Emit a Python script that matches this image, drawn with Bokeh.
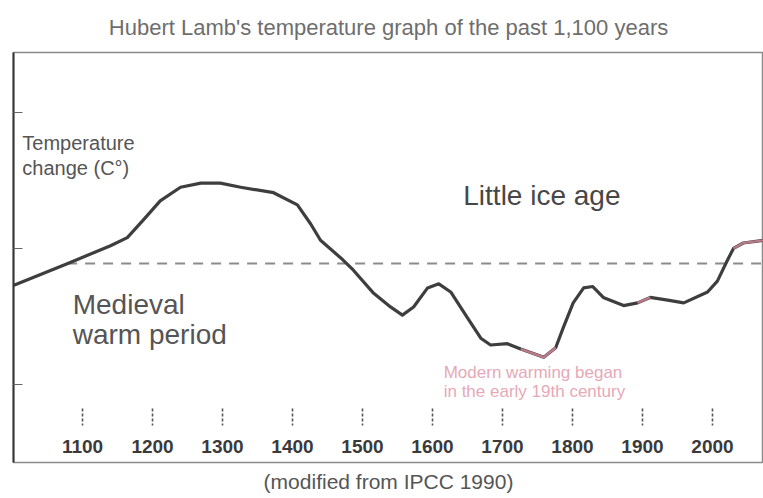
from bokeh.plotting import figure
from bokeh.models import Label, FixedTicker, Title, Range1d, CustomJSTickFormatter
from bokeh.core.properties import value
from bokeh.embed import file_html
from bokeh.resources import INLINE

# ---- data ----
years = [1002, 1079, 1140, 1164, 1187, 1211, 1240, 1269, 1297, 1326,
         1373, 1407, 1426, 1440, 1469, 1487, 1516, 1540, 1557, 1573,
         1593, 1609, 1626, 1650, 1669, 1683, 1707, 1726, 1759, 1776,
         1787, 1801, 1816, 1829, 1844, 1873, 1893, 1911, 1936, 1959,
         1993, 2007, 2021, 2030, 2044, 2073]
temps = [-0.27, -0.11, 0.02, 0.08, 0.21, 0.35, 0.45, 0.48, 0.48, 0.45,
         0.41, 0.32, 0.18, 0.06, -0.07, -0.16, -0.33, -0.43, -0.49, -0.43,
         -0.29, -0.26, -0.32, -0.51, -0.66, -0.71, -0.70, -0.74, -0.80, -0.73,
         -0.58, -0.40, -0.29, -0.28, -0.36, -0.42, -0.40, -0.36, -0.38, -0.40,
         -0.32, -0.24, -0.09, 0.00, 0.04, 0.06]
baseline_value = -0.11
baseline_years = [1078, 2075]
year_ticks = [1100, 1200, 1300, 1400, 1500, 1600, 1700, 1800, 1900, 2000]
year_labels = ["1100", "1200", "1300", "1400", "1500", "1600", "1700", "1800", "1900", "2000"]
y_ticks = [-1, 0, 1]
pink_spans = [(27, 30), (36, 38), (43, 46)]

title_text = "Hubert Lamb's temperature graph of the past 1,100 years"
caption_text = "(modified from IPCC 1990)"
ylabel_lines = ["Temperature", "change (C°)"]
lia_text = "Little ice age"
mwp_lines = ["Medieval", "warm period"]
pink_lines = ["Modern warming began", "in the early 19th century"]

FONT = "Liberation Sans"

p = figure(width=763, height=498, output_backend="svg", toolbar_location=None,
           x_range=Range1d(1001.4, 2072.9), y_range=Range1d(-1.574, 1.441),
           x_axis_location=None, min_border_left=13, min_border_right=0,
           min_border_top=52, min_border_bottom=36)
p.grid.visible = False
p.background_fill_color = "white"
p.border_fill_color = "white"
p.outline_line_color = "#8a8a8a"
p.outline_line_width = 1.5

p.title.text = title_text
p.title.align = "center"
p.title.vertical_align = "top"
p.title.text_font = FONT
p.title.text_font_size = "22px"
p.title.text_font_style = "normal"
p.title.text_color = "#6e6e6e"
p.title.standoff = p.title.standoff + 12

cap = Title(text=caption_text, align="center", text_font=FONT,
            text_font_size="21px", text_font_style="normal", text_color="#555555")
cap.standoff = cap.standoff + 1
p.add_layout(cap, "below")

ax = p.yaxis[0]
ax.ticker = FixedTicker(ticks=y_ticks)
ax.formatter = CustomJSTickFormatter(code="return ''")
ax.major_tick_in = 9
ax.major_tick_out = 0
ax.minor_tick_line_color = None
ax.major_label_standoff = 0
ax.axis_line_color = "#333333"
ax.axis_line_width = 2
ax.major_tick_line_color = "#666666"

# dashed reference line
p.line(baseline_years, [baseline_value, baseline_value], line_color="#8c8c8c",
       line_width=2, line_dash="10 8")

# temperature curve
p.line(years, temps, line_color="#3e3e3e", line_width=3.2, line_join="round")
for a, b in pink_spans:
    p.line(years[a:b], temps[a:b], line_color="#d9899d", line_width=2.4, line_alpha=0.8)

# year ticks and labels inside the frame
n = len(year_ticks)
p.segment(x0=year_ticks, y0=[-1.176] * n, x1=year_ticks, y1=[-1.301] * n,
          line_color="#555555", line_width=1.6, line_dash="3 2")
p.text(x=year_ticks, y=[-1.456] * n, text=year_labels,
       text_align="center", text_baseline="middle", text_font=value(FONT),
       text_font_size="19px", text_font_style="bold", text_color="#3a3a3a")

def add_label(txt, x, y, size, color):
    p.add_layout(Label(x=x, y=y, text=txt, text_font=FONT, text_font_size=size,
                       text_color=color, text_align="left", text_baseline="middle"))

add_label(ylabel_lines[0], 1014, 0.772, "20px", "#555555")
add_label(ylabel_lines[1], 1014, 0.588, "20px", "#555555")
add_label(lia_text, 1644, 0.39, "28px", "#474747")
add_label(mwp_lines[0], 1086, -0.41, "28px", "#555555")
add_label(mwp_lines[1], 1086, -0.635, "28px", "#555555")
add_label(pink_lines[0], 1616, -0.912, "17px", "#e6a9b8")
add_label(pink_lines[1], 1616, -1.051, "17px", "#e6a9b8")

open("out.html", "w").write(file_html(p, INLINE))
